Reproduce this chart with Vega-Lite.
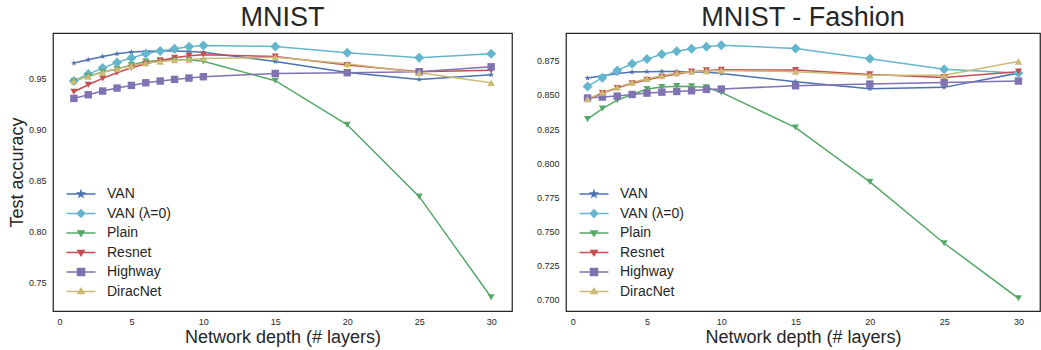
{
  "$schema": "https://vega.github.io/schema/vega-lite/v6.json",
  "padding": {"left": 7, "top": 3, "right": 0, "bottom": 0},
  "datasets": {
    "acc": [
      {"d":"M","s":"VAN","x":1,"y":0.9647},{"d":"M","s":"VAN","x":2,"y":0.968},{"d":"M","s":"VAN","x":3,"y":0.9712},{"d":"M","s":"VAN","x":4,"y":0.9738},{"d":"M","s":"VAN","x":5,"y":0.9755},{"d":"M","s":"VAN","x":6,"y":0.9762},{"d":"M","s":"VAN","x":7,"y":0.9765},{"d":"M","s":"VAN","x":8,"y":0.9765},{"d":"M","s":"VAN","x":9,"y":0.976},{"d":"M","s":"VAN","x":10,"y":0.9752},{"d":"M","s":"VAN","x":15,"y":0.9663},{"d":"M","s":"VAN","x":20,"y":0.9556},{"d":"M","s":"VAN","x":25,"y":0.9488},{"d":"M","s":"VAN","x":30,"y":0.9533},
      {"d":"M","s":"VAN (λ=0)","x":1,"y":0.9472},{"d":"M","s":"VAN (λ=0)","x":2,"y":0.954},{"d":"M","s":"VAN (λ=0)","x":3,"y":0.9598},{"d":"M","s":"VAN (λ=0)","x":4,"y":0.9654},{"d":"M","s":"VAN (λ=0)","x":5,"y":0.9696},{"d":"M","s":"VAN (λ=0)","x":6,"y":0.9738},{"d":"M","s":"VAN (λ=0)","x":7,"y":0.9765},{"d":"M","s":"VAN (λ=0)","x":8,"y":0.9787},{"d":"M","s":"VAN (λ=0)","x":9,"y":0.9807},{"d":"M","s":"VAN (λ=0)","x":10,"y":0.982},{"d":"M","s":"VAN (λ=0)","x":15,"y":0.981},{"d":"M","s":"VAN (λ=0)","x":20,"y":0.9748},{"d":"M","s":"VAN (λ=0)","x":25,"y":0.9699},{"d":"M","s":"VAN (λ=0)","x":30,"y":0.9738},
      {"d":"M","s":"Plain","x":1,"y":0.947},{"d":"M","s":"Plain","x":2,"y":0.952},{"d":"M","s":"Plain","x":3,"y":0.956},{"d":"M","s":"Plain","x":4,"y":0.959},{"d":"M","s":"Plain","x":5,"y":0.9628},{"d":"M","s":"Plain","x":6,"y":0.9663},{"d":"M","s":"Plain","x":7,"y":0.9673},{"d":"M","s":"Plain","x":8,"y":0.968},{"d":"M","s":"Plain","x":9,"y":0.968},{"d":"M","s":"Plain","x":10,"y":0.9664},{"d":"M","s":"Plain","x":15,"y":0.9475},{"d":"M","s":"Plain","x":20,"y":0.9045},{"d":"M","s":"Plain","x":25,"y":0.8343},{"d":"M","s":"Plain","x":30,"y":0.736},
      {"d":"M","s":"Resnet","x":1,"y":0.9367},{"d":"M","s":"Resnet","x":2,"y":0.9436},{"d":"M","s":"Resnet","x":3,"y":0.9498},{"d":"M","s":"Resnet","x":4,"y":0.9553},{"d":"M","s":"Resnet","x":5,"y":0.9602},{"d":"M","s":"Resnet","x":6,"y":0.9641},{"d":"M","s":"Resnet","x":7,"y":0.9672},{"d":"M","s":"Resnet","x":8,"y":0.9699},{"d":"M","s":"Resnet","x":9,"y":0.9719},{"d":"M","s":"Resnet","x":10,"y":0.9729},{"d":"M","s":"Resnet","x":15,"y":0.9712},{"d":"M","s":"Resnet","x":20,"y":0.9628},{"d":"M","s":"Resnet","x":25,"y":0.9563},{"d":"M","s":"Resnet","x":30,"y":0.9576},
      {"d":"M","s":"Highway","x":1,"y":0.9302},{"d":"M","s":"Highway","x":2,"y":0.9338},{"d":"M","s":"Highway","x":3,"y":0.9374},{"d":"M","s":"Highway","x":4,"y":0.9403},{"d":"M","s":"Highway","x":5,"y":0.9429},{"d":"M","s":"Highway","x":6,"y":0.9455},{"d":"M","s":"Highway","x":7,"y":0.9472},{"d":"M","s":"Highway","x":8,"y":0.9488},{"d":"M","s":"Highway","x":9,"y":0.9501},{"d":"M","s":"Highway","x":10,"y":0.9514},{"d":"M","s":"Highway","x":15,"y":0.9546},{"d":"M","s":"Highway","x":20,"y":0.9553},{"d":"M","s":"Highway","x":25,"y":0.9563},{"d":"M","s":"Highway","x":30,"y":0.9611},
      {"d":"M","s":"DiracNet","x":1,"y":0.9472},{"d":"M","s":"DiracNet","x":2,"y":0.9517},{"d":"M","s":"DiracNet","x":3,"y":0.9556},{"d":"M","s":"DiracNet","x":4,"y":0.9589},{"d":"M","s":"DiracNet","x":5,"y":0.9621},{"d":"M","s":"DiracNet","x":6,"y":0.9647},{"d":"M","s":"DiracNet","x":7,"y":0.9663},{"d":"M","s":"DiracNet","x":8,"y":0.9676},{"d":"M","s":"DiracNet","x":9,"y":0.9683},{"d":"M","s":"DiracNet","x":10,"y":0.9693},{"d":"M","s":"DiracNet","x":15,"y":0.9703},{"d":"M","s":"DiracNet","x":20,"y":0.9641},{"d":"M","s":"DiracNet","x":25,"y":0.9553},{"d":"M","s":"DiracNet","x":30,"y":0.9455},
      {"d":"F","s":"VAN","x":1,"y":0.8623},{"d":"F","s":"VAN","x":2,"y":0.864},{"d":"F","s":"VAN","x":3,"y":0.8657},{"d":"F","s":"VAN","x":4,"y":0.8667},{"d":"F","s":"VAN","x":5,"y":0.867},{"d":"F","s":"VAN","x":6,"y":0.8672},{"d":"F","s":"VAN","x":7,"y":0.8672},{"d":"F","s":"VAN","x":8,"y":0.8668},{"d":"F","s":"VAN","x":9,"y":0.8668},{"d":"F","s":"VAN","x":10,"y":0.8657},{"d":"F","s":"VAN","x":15,"y":0.8596},{"d":"F","s":"VAN","x":20,"y":0.8545},{"d":"F","s":"VAN","x":25,"y":0.8555},{"d":"F","s":"VAN","x":30,"y":0.866},
      {"d":"F","s":"VAN (λ=0)","x":1,"y":0.8562},{"d":"F","s":"VAN (λ=0)","x":2,"y":0.8626},{"d":"F","s":"VAN (λ=0)","x":3,"y":0.8679},{"d":"F","s":"VAN (λ=0)","x":4,"y":0.8728},{"d":"F","s":"VAN (λ=0)","x":5,"y":0.8762},{"d":"F","s":"VAN (λ=0)","x":6,"y":0.8797},{"d":"F","s":"VAN (λ=0)","x":7,"y":0.8819},{"d":"F","s":"VAN (λ=0)","x":8,"y":0.8838},{"d":"F","s":"VAN (λ=0)","x":9,"y":0.8853},{"d":"F","s":"VAN (λ=0)","x":10,"y":0.8863},{"d":"F","s":"VAN (λ=0)","x":15,"y":0.884},{"d":"F","s":"VAN (λ=0)","x":20,"y":0.8765},{"d":"F","s":"VAN (λ=0)","x":25,"y":0.8687},{"d":"F","s":"VAN (λ=0)","x":30,"y":0.866},
      {"d":"F","s":"Plain","x":1,"y":0.8323},{"d":"F","s":"Plain","x":2,"y":0.84},{"d":"F","s":"Plain","x":3,"y":0.8462},{"d":"F","s":"Plain","x":4,"y":0.8503},{"d":"F","s":"Plain","x":5,"y":0.8543},{"d":"F","s":"Plain","x":6,"y":0.8557},{"d":"F","s":"Plain","x":7,"y":0.8564},{"d":"F","s":"Plain","x":8,"y":0.8562},{"d":"F","s":"Plain","x":9,"y":0.8555},{"d":"F","s":"Plain","x":10,"y":0.8518},{"d":"F","s":"Plain","x":15,"y":0.8261},{"d":"F","s":"Plain","x":20,"y":0.7863},{"d":"F","s":"Plain","x":25,"y":0.7414},{"d":"F","s":"Plain","x":30,"y":0.7011},
      {"d":"F","s":"Resnet","x":1,"y":0.8464},{"d":"F","s":"Resnet","x":2,"y":0.8513},{"d":"F","s":"Resnet","x":3,"y":0.855},{"d":"F","s":"Resnet","x":4,"y":0.8584},{"d":"F","s":"Resnet","x":5,"y":0.8611},{"d":"F","s":"Resnet","x":6,"y":0.8633},{"d":"F","s":"Resnet","x":7,"y":0.8652},{"d":"F","s":"Resnet","x":8,"y":0.867},{"d":"F","s":"Resnet","x":9,"y":0.8679},{"d":"F","s":"Resnet","x":10,"y":0.8684},{"d":"F","s":"Resnet","x":15,"y":0.8682},{"d":"F","s":"Resnet","x":20,"y":0.865},{"d":"F","s":"Resnet","x":25,"y":0.8628},{"d":"F","s":"Resnet","x":30,"y":0.867},
      {"d":"F","s":"Highway","x":1,"y":0.8477},{"d":"F","s":"Highway","x":2,"y":0.8484},{"d":"F","s":"Highway","x":3,"y":0.8491},{"d":"F","s":"Highway","x":4,"y":0.8503},{"d":"F","s":"Highway","x":5,"y":0.8513},{"d":"F","s":"Highway","x":6,"y":0.852},{"d":"F","s":"Highway","x":7,"y":0.8525},{"d":"F","s":"Highway","x":8,"y":0.853},{"d":"F","s":"Highway","x":9,"y":0.854},{"d":"F","s":"Highway","x":10,"y":0.8543},{"d":"F","s":"Highway","x":15,"y":0.8567},{"d":"F","s":"Highway","x":20,"y":0.8579},{"d":"F","s":"Highway","x":25,"y":0.8591},{"d":"F","s":"Highway","x":30,"y":0.8601},
      {"d":"F","s":"DiracNet","x":1,"y":0.8469},{"d":"F","s":"DiracNet","x":2,"y":0.8518},{"d":"F","s":"DiracNet","x":3,"y":0.8555},{"d":"F","s":"DiracNet","x":4,"y":0.8591},{"d":"F","s":"DiracNet","x":5,"y":0.8618},{"d":"F","s":"DiracNet","x":6,"y":0.864},{"d":"F","s":"DiracNet","x":7,"y":0.866},{"d":"F","s":"DiracNet","x":8,"y":0.867},{"d":"F","s":"DiracNet","x":9,"y":0.8675},{"d":"F","s":"DiracNet","x":10,"y":0.8679},{"d":"F","s":"DiracNet","x":15,"y":0.867},{"d":"F","s":"DiracNet","x":20,"y":0.8643},{"d":"F","s":"DiracNet","x":25,"y":0.8643},{"d":"F","s":"DiracNet","x":30,"y":0.8745}
    ]
  },
  "config": {
    "font": "Liberation Sans",
    "view": {"stroke": "#262626", "strokeWidth": 1.25},
    "axis": {"grid": false, "domain": false, "ticks": false, "tickSize": 0, "labelFontSize": 9, "labelColor": "#262626", "labelFont": "Liberation Sans", "titleFontSize": 18, "titleFontWeight": "normal", "titleColor": "#262626", "titleFont": "Liberation Sans"},
    "axisX": {"labelPadding": 6, "titlePadding": 2},
    "axisY": {"labelPadding": 7, "titlePadding": 2},
    "title": {"fontSize": 27, "fontWeight": "normal", "color": "#262626", "baseline": "alphabetic", "offset": 1, "font": "Liberation Sans"}
  },
  "spacing": 22,
  "resolve": {"scale": {"x": "independent", "y": "independent"}, "legend": {"color": "independent"}},
  "hconcat": [
    {
      "width": 459, "height": 278,
      "title": "MNIST",
      "data": {"name": "acc"},
      "transform": [{"filter": "datum.d === 'M'"}],
      "encoding": {
        "x": {"field": "x", "type": "quantitative", "scale": {"domain": [-0.45, 31.45], "nice": false, "zero": false}, "axis": {"values": [0,5,10,15,20,25,30], "title": "Network depth (# layers)"}},
        "y": {"field": "y", "type": "quantitative", "scale": {"domain": [0.7226, 0.9941], "nice": false, "zero": false}, "axis": {"values": [0.75,0.8,0.85,0.9,0.95], "format": ".2f", "title": "Test accuracy"}},
        "color": {"field": "s", "type": "nominal", "scale": {"domain": ["VAN","VAN (λ=0)","Plain","Resnet","Highway","DiracNet"], "range": ["#4C72B0","#64B5CD","#55A868","#C44E52","#8172B2","#CCB974"]},
          "legend": {"title": null, "orient": "none", "legendX": 12, "legendY": 154, "padding": 0, "rowPadding": 5.5, "labelFontSize": 14, "labelColor": "#262626", "labelFont": "Liberation Sans", "symbolSize": 49, "symbolStrokeWidth": 1.5, "symbolOffset": 9, "labelOffset": 19, "symbolOpacity": 1,
            "encode": {"symbols": {"update": {
              "shape": {"signal": "datum.value==='VAN'?'M-4.14,0H4.14M0,-0.85L0.19,-0.26L0.81,-0.26L0.31,0.1L0.5,0.69L0,0.32L-0.5,0.69L-0.31,0.1L-0.81,-0.26L-0.19,-0.26Z':(datum.value==='Plain'||datum.value==='Resnet')?'M-4.14,0H4.14M-0.9,-0.6L0.9,-0.6L0,0.9Z':datum.value==='Highway'?'M-4.14,0H4.14M-1,-1H1V1H-1Z':datum.value==='DiracNet'?'M-4.14,0H4.14M0,-0.9L0.9,0.6L-0.9,0.6Z':'M-4.14,0H4.14M-1.05,0L0,-1.05L1.05,0L0,1.05Z'"},
              "strokeWidth": {"value": 1.5}
            }}}
          }}
      },
      "layer": [
        {"mark": {"type": "line", "strokeWidth": 1.5}},
        {"transform": [{"filter": {"field": "s", "equal": "VAN"}}], "mark": {"type": "point", "filled": true, "opacity": 1, "strokeWidth": 0, "size": 40, "shape": "M0,-1L0.223,-0.307L0.951,-0.309L0.361,0.117L0.588,0.809L0,0.38L-0.588,0.809L-0.361,0.117L-0.951,-0.309L-0.223,-0.307Z"}},
        {"transform": [{"filter": {"field": "s", "equal": "VAN (λ=0)"}}], "mark": {"type": "point", "filled": true, "opacity": 1, "strokeWidth": 0, "size": 100, "shape": "diamond"}},
        {"transform": [{"filter": {"field": "s", "equal": "Plain"}}], "mark": {"type": "point", "filled": true, "opacity": 1, "strokeWidth": 0, "size": 50, "shape": "triangle-down"}},
        {"transform": [{"filter": {"field": "s", "equal": "Resnet"}}], "mark": {"type": "point", "filled": true, "opacity": 1, "strokeWidth": 0, "size": 50, "shape": "triangle-down"}},
        {"transform": [{"filter": {"field": "s", "equal": "Highway"}}], "mark": {"type": "point", "filled": true, "opacity": 1, "strokeWidth": 0, "size": 55, "shape": "square"}},
        {"transform": [{"filter": {"field": "s", "equal": "DiracNet"}}], "mark": {"type": "point", "filled": true, "opacity": 1, "strokeWidth": 0, "size": 55, "shape": "triangle-up"}}
      ]
    },
    {
      "width": 474, "height": 278,
      "title": "MNIST - Fashion",
      "data": {"name": "acc"},
      "transform": [{"filter": "datum.d === 'F'"}],
      "encoding": {
        "x": {"field": "x", "type": "quantitative", "scale": {"domain": [-0.45, 31.45], "nice": false, "zero": false}, "axis": {"values": [0,5,10,15,20,25,30], "title": "Network depth (# layers)"}},
        "y": {"field": "y", "type": "quantitative", "scale": {"domain": [0.6918, 0.8953], "nice": false, "zero": false}, "axis": {"values": [0.7,0.725,0.75,0.775,0.8,0.825,0.85,0.875], "format": ".3f", "title": null}},
        "color": {"field": "s", "type": "nominal", "scale": {"domain": ["VAN","VAN (λ=0)","Plain","Resnet","Highway","DiracNet"], "range": ["#4C72B0","#64B5CD","#55A868","#C44E52","#8172B2","#CCB974"]},
          "legend": {"title": null, "orient": "none", "legendX": 12, "legendY": 154, "padding": 0, "rowPadding": 5.5, "labelFontSize": 14, "labelColor": "#262626", "labelFont": "Liberation Sans", "symbolSize": 49, "symbolStrokeWidth": 1.5, "symbolOffset": 9, "labelOffset": 19, "symbolOpacity": 1,
            "encode": {"symbols": {"update": {
              "shape": {"signal": "datum.value==='VAN'?'M-4.14,0H4.14M0,-0.85L0.19,-0.26L0.81,-0.26L0.31,0.1L0.5,0.69L0,0.32L-0.5,0.69L-0.31,0.1L-0.81,-0.26L-0.19,-0.26Z':(datum.value==='Plain'||datum.value==='Resnet')?'M-4.14,0H4.14M-0.9,-0.6L0.9,-0.6L0,0.9Z':datum.value==='Highway'?'M-4.14,0H4.14M-1,-1H1V1H-1Z':datum.value==='DiracNet'?'M-4.14,0H4.14M0,-0.9L0.9,0.6L-0.9,0.6Z':'M-4.14,0H4.14M-1.05,0L0,-1.05L1.05,0L0,1.05Z'"},
              "strokeWidth": {"value": 1.5}
            }}}
          }}
      },
      "layer": [
        {"mark": {"type": "line", "strokeWidth": 1.5}},
        {"transform": [{"filter": {"field": "s", "equal": "VAN"}}], "mark": {"type": "point", "filled": true, "opacity": 1, "strokeWidth": 0, "size": 40, "shape": "M0,-1L0.223,-0.307L0.951,-0.309L0.361,0.117L0.588,0.809L0,0.38L-0.588,0.809L-0.361,0.117L-0.951,-0.309L-0.223,-0.307Z"}},
        {"transform": [{"filter": {"field": "s", "equal": "VAN (λ=0)"}}], "mark": {"type": "point", "filled": true, "opacity": 1, "strokeWidth": 0, "size": 100, "shape": "diamond"}},
        {"transform": [{"filter": {"field": "s", "equal": "Plain"}}], "mark": {"type": "point", "filled": true, "opacity": 1, "strokeWidth": 0, "size": 50, "shape": "triangle-down"}},
        {"transform": [{"filter": {"field": "s", "equal": "Resnet"}}], "mark": {"type": "point", "filled": true, "opacity": 1, "strokeWidth": 0, "size": 50, "shape": "triangle-down"}},
        {"transform": [{"filter": {"field": "s", "equal": "Highway"}}], "mark": {"type": "point", "filled": true, "opacity": 1, "strokeWidth": 0, "size": 55, "shape": "square"}},
        {"transform": [{"filter": {"field": "s", "equal": "DiracNet"}}], "mark": {"type": "point", "filled": true, "opacity": 1, "strokeWidth": 0, "size": 55, "shape": "triangle-up"}}
      ]
    }
  ]
}
